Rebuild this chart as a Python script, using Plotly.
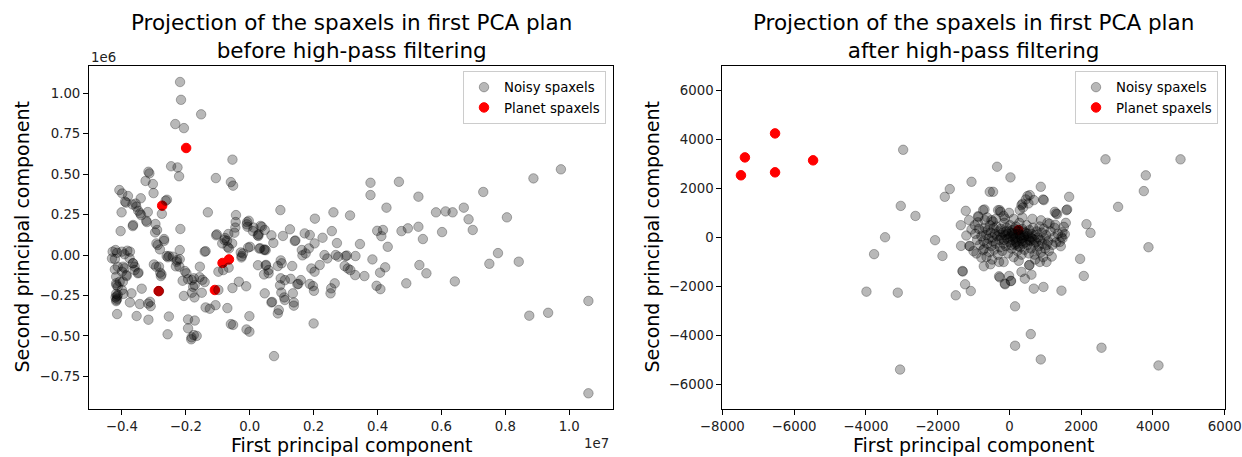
import plotly.graph_objects as go

# ---------------- data (left: x in units of 1e7, y in units of 1e6) ----------------
noisy_before = [
    (-0.218, 1.07), (-0.215, 0.96), (-0.152, 0.87), (-0.233, 0.81), (-0.206, 0.785),
    (-0.054, 0.59), (-0.246, 0.549), (-0.226, 0.542), (-0.221, 0.487), (-0.317, 0.515),
    (-0.314, 0.505), (-0.326, 0.458), (-0.303, 0.439), (-0.301, 0.383), (-0.106, 0.476),
    (-0.059, 0.451), (-0.052, 0.429), (-0.408, 0.402), (-0.399, 0.381), (-0.381, 0.365),
    (-0.387, 0.324), (-0.367, 0.313), (-0.357, 0.318), (-0.341, 0.351), (-0.263, 0.336),
    (-0.259, 0.342), (0.378, 0.447), (0.467, 0.453), (0.378, 0.371), (0.528, 0.361),
    (0.974, 0.530), (0.888, 0.474), (0.731, 0.390),
    (-0.349, 0.274), (-0.340, 0.247), (-0.319, 0.266), (-0.322, 0.204), (-0.295, 0.192),
    (-0.401, 0.264), (-0.365, 0.186), (-0.404, 0.148), (-0.296, 0.140), (-0.275, 0.255),
    (-0.217, 0.161), (-0.131, 0.264), (-0.043, 0.247), (-0.044, 0.204), (-0.045, 0.170),
    (-0.048, 0.138), (-0.008, 0.204), (-0.007, 0.175), (0.010, 0.148), (0.038, 0.175),
    (0.028, 0.128), (0.068, 0.122), (0.096, 0.278), (0.104, 0.118), (0.126, 0.159),
    (0.172, 0.134), (0.188, 0.124), (0.204, 0.225), (-0.103, 0.128), (-0.077, 0.105),
    (-0.268, 0.099), (-0.343, 0.258), (-0.355, 0.299), (-0.366, 0.179),
    (0.428, 0.293), (0.262, 0.264), (0.314, 0.245), (0.583, 0.264), (0.613, 0.270),
    (0.635, 0.264), (0.670, 0.293), (0.685, 0.221), (0.805, 0.233), (0.698, 0.155),
    (0.602, 0.142), (0.228, 0.107), (0.257, 0.148), (0.141, 0.087), (0.143, 0.090),
    (0.074, 0.075), (0.047, 0.155), (0.203, 0.072), (0.273, 0.074), (0.345, 0.068),
    (0.399, 0.150), (0.417, 0.155), (0.412, 0.117), (0.475, 0.148), (0.495, 0.165),
    (0.528, 0.175), (0.542, 0.099), (0.432, 0.051), (0.163, 0.031), (0.185, 0.041),
    (0.165, -0.002), (0.047, 0.035), (0.050, 0.030), (0.050, -0.064), (0.059, -0.113),
    (0.088, -0.068), (0.097, -0.033), (0.133, -0.068), (0.234, 0.0), (0.243, -0.021),
    (0.269, 0.0), (0.277, -0.010), (0.300, -0.006), (0.304, -0.003), (0.331, -0.006),
    (0.193, -0.083), (0.203, -0.103), (0.219, -0.062), (0.307, -0.083), (0.315, -0.093),
    (0.297, -0.068), (0.330, -0.124), (0.359, -0.130), (0.384, -0.027), (0.424, -0.076),
    (0.408, -0.109), (0.531, -0.062), (0.553, -0.113), (0.490, -0.175), (0.397, -0.190),
    (0.409, -0.211), (0.047, -0.237), (0.097, -0.144), (0.128, -0.147), (0.149, -0.181),
    (0.152, -0.178), (0.160, -0.155), (0.188, -0.179), (0.198, -0.192), (0.201, -0.221),
    (0.095, -0.187), (0.099, -0.232), (0.135, -0.237), (0.108, -0.262), (0.068, -0.293),
    (0.070, -0.290), (0.138, -0.293), (0.138, -0.313), (0.091, -0.340), (0.088, -0.361),
    (0.200, -0.423), (0.255, -0.206), (0.253, -0.237), (0.266, -0.175), (0.777, 0.012),
    (0.750, -0.054), (0.842, -0.041), (0.642, -0.163), (1.060, -0.284), (0.934, -0.357),
    (0.875, -0.375), (1.060, -0.855), (0.076, -0.625),
    (-0.429, 0.021), (-0.415, 0.014), (-0.400, 0.021), (-0.375, 0.021), (-0.392, 0.005),
    (-0.376, -0.020), (-0.365, -0.051), (-0.360, -0.072), (-0.348, -0.109), (-0.396, -0.072),
    (-0.422, -0.025), (-0.422, -0.089), (-0.400, -0.103), (-0.385, -0.130), (-0.407, -0.165),
    (-0.417, -0.186), (-0.400, -0.216), (-0.370, -0.237), (-0.418, -0.240), (-0.416, -0.255),
    (-0.415, -0.270), (-0.418, -0.285), (-0.413, -0.247), (-0.415, -0.365), (-0.375, -0.293),
    (-0.344, -0.303), (-0.312, -0.289), (-0.310, -0.316), (-0.354, -0.377), (-0.317, -0.400),
    (-0.338, -0.208), (-0.284, -0.223), (-0.292, 0.072), (-0.268, 0.088), (-0.281, 0.035),
    (-0.260, -0.006), (-0.253, -0.006), (-0.229, -0.041), (-0.219, 0.031), (-0.219, -0.026),
    (-0.300, -0.058), (-0.284, -0.072), (-0.280, -0.109), (-0.276, -0.120), (-0.203, -0.099),
    (-0.210, -0.159), (-0.181, -0.155), (-0.156, -0.072), (-0.148, -0.153), (-0.172, -0.186),
    (-0.181, -0.233), (-0.206, -0.253), (-0.173, -0.262), (-0.150, -0.233), (-0.141, -0.167),
    (-0.138, -0.324), (-0.125, -0.332), (-0.107, -0.310), (-0.098, -0.216), (-0.070, -0.328),
    (-0.054, -0.204), (-0.034, -0.165), (-0.011, -0.193), (-0.098, -0.103), (-0.083, -0.093),
    (-0.066, -0.078), (-0.141, 0.021), (-0.138, 0.024), (-0.086, 0.072), (-0.071, 0.088),
    (-0.055, 0.072), (-0.065, 0.041), (-0.025, -0.006), (-0.005, 0.046), (-0.028, 0.016),
    (-0.193, -0.398), (-0.172, -0.405), (-0.193, -0.453), (-0.182, -0.509), (-0.166, -0.500),
    (-0.257, -0.490), (-0.253, -0.380), (-0.052, -0.432), (-0.010, -0.460), (-0.001, -0.474),
    (-0.001, -0.378), (0.045, 0.031), (0.051, -0.061), (0.059, -0.093), (0.045, -0.120),
    (0.100, -0.051), (0.110, -0.155), (0.110, -0.278), (0.175, 0.010),
    (-0.003, 0.212), (-0.009, 0.190), (0.012, 0.170), (0.034, 0.180), (0.025, 0.122),
    (0.027, 0.118), (-0.105, 0.122), (-0.079, 0.093), (-0.067, 0.130), (-0.069, 0.050),
    (0.001, 0.051), (-0.021, 0.010), (-0.026, -0.015), (0.030, 0.040), (0.033, 0.042),
    (0.026, -0.063), (-0.059, -0.427), (-0.177, -0.197), (-0.175, -0.144), (-0.157, -0.137),
    (-0.193, -0.150), (-0.198, -0.113), (-0.220, -0.072), (-0.175, -0.495), (-0.183, -0.521),
    (-0.318, -0.300), (-0.293, -0.072), (-0.278, -0.130), (-0.256, -0.014), (-0.241, -0.010),
    (-0.227, -0.030), (-0.231, -0.070), (-0.288, 0.062), (-0.290, 0.155), (-0.324, 0.212),
    (-0.390, 0.330), (-0.431, -0.021), (-0.420, 0.031), (-0.383, 0.027), (-0.413, -0.072),
    (-0.418, -0.134), (-0.418, -0.175), (-0.413, -0.196), (-0.397, -0.165), (-0.392, -0.082),
    (-0.386, -0.124), (-0.360, -0.093), (-0.350, -0.113), (-0.366, -0.051), (-0.395, -0.240),
    (-0.420, -0.262), (-0.417, -0.278),
]
planet_before = [(-0.199, 0.662), (-0.274, 0.305), (-0.285, -0.223),
                 (-0.109, -0.216), (-0.085, -0.049), (-0.065, -0.027)]

noisy_after = [
    (-2960, 3580), (-3027, 1290), (-2618, 880), (-3464, 10), (-3770, -680), (-3983, -2210),
    (-3110, -2250), (-3046, -5390), (-2071, -110), (-1865, -753), (-1346, -343), (-1115, -343),
    (-1308, -1366), (-1300, -1390), (-1234, -1910), (-1076, -2184), (-1494, -2360), (-713, -1174),
    (-527, -1093), (-287, -998), (-287, -1583), (-268, -1630), (-128, -1881), (-8, -1570),
    (47, -1775), (159, -2810), (596, -3943), (159, -4417), (875, -4977), (2567, -4499),
    (4155, -5223), (3876, -397), (1971, -874), (2073, -1570), (1451, -2169), (950, -2019),
    (680, -2087), (615, -1516), (430, -1680), (337, -1406), (560, -1120), (1034, -998),
    (848, -998), (1432, -356), (1479, -41), (1544, 135), (2260, 190), (2678, 3190),
    (4769, 3190), (3801, 2536), (3746, 1894), (3030, 1252), (2148, 544), (1665, 1661),
    (1591, 1117), (1265, 1047), (1300, 980), (1572, 597), (1516, 434), (1258, 392),
    (959, 1526), (875, 2070), (680, 1526), (504, 1690), (532, 1390), (365, 1380),
    (290, 1117), (30, 2454), (-343, 2888), (-454, 1865), (-547, 1865), (-1056, 2274),
    (-1661, 1975), (-1800, 1661), (-1354, 503), (-1215, 1088), (-1123, 708), (-872, 871),
    (-733, 1117), (-268, 1117), (-8, 1006), (-128, 777), (-499, 708), (-460, 650),
    (569, 1730), (940, 1554), (457, 1554), (337, 1321), (382, 1227), (1609, 1145),
    (1330, 953), (1480, 217), (1452, 25), (1405, -180), (-1056, 327), (-964, 503),
    (-1104, -356), (-917, -654), (-638, -793), (-733, -519), (549, -1133), (-120, -1910),
    (39, -1775), (-694, 1145), (-861, 843), (-686, 708), (-315, 1117), (-248, 1047),
    (-950, 150), (-900, -100), (-850, 350), (-820, -300), (-780, 50), (-750, 250),
    (-720, -150), (-700, -450), (-680, 400), (-650, 100), (-620, -250), (-600, 300),
    (-580, -50), (-560, -600), (-540, 500), (-520, 200), (-500, -350), (-480, 0),
    (-460, -150), (-440, 380), (-420, -500), (-400, 150), (-380, -250), (-360, 450),
    (-340, 50), (-320, -700), (-300, 250), (-280, -100), (-260, -400), (-240, 350),
    (-220, 0), (-200, -550), (-180, 200), (-160, -250), (-140, 600), (-120, 100),
    (-100, -350), (-80, 400), (-60, -50), (-40, -650), (-20, 250), (0, -200),
    (20, 500), (40, 50), (60, -450), (80, 300), (100, -100), (120, -800),
    (140, 150), (160, -300), (180, 450), (200, 0), (220, -550), (240, 250),
    (260, -150), (280, 600), (300, -400), (320, 100), (340, -700), (360, 350),
    (380, -250), (400, 0), (420, -500), (440, 200), (460, -100), (480, 500),
    (500, -300), (520, 50), (540, -650), (560, 300), (580, -150), (600, -450),
    (620, 150), (640, -50), (660, 400), (680, -300), (700, -700), (720, 100),
    (740, -200), (760, 250), (780, -500), (800, 0), (820, -350), (840, 450),
    (860, -100), (880, -600), (900, 200), (920, -250), (940, -800), (960, 350),
    (980, -50), (1000, -450), (1020, 100), (1040, -300), (1060, 600), (1080, -150),
    (1100, -550), (1150, 250), (1200, -300), (1250, 0), (1300, -200), (1350, 150),
    (100, 100), (200, -250), (300, 50), (0, 0), (150, -50), (250, 150),
    (350, -150), (50, -300), (450, -200), (-50, 150), (-150, -100), (550, -100),
    (400, 250), (-250, 100), (600, 0), (700, -100), (250, -350), (150, 350),
    (-100, 250), (500, 150), (330, -30), (180, -180), (80, 180), (420, 80),
    (-880, 620), (-620, 820), (-380, 760), (-160, 880), (120, 760), (360, 820),
    (640, 760), (880, 700), (1120, 560), (-1000, -560), (-780, -820), (-480, -900),
    (-160, -1000), (260, -950), (720, -900), (1180, -780), (1280, 520), (-1200, 80),
]
planet_after = [(-7480, 2540), (-7370, 3270), (-6530, 4250), (-6530, 2660), (-5470, 3150), (250, 300)]

# axis ticks
left_xticks = [-0.4, -0.2, 0.0, 0.2, 0.4, 0.6, 0.8, 1.0]
left_xtext = ["\u22120.4", "\u22120.2", "0.0", "0.2", "0.4", "0.6", "0.8", "1.0"]
left_yticks = [-0.75, -0.5, -0.25, 0.0, 0.25, 0.5, 0.75, 1.0]
left_ytext = ["\u22120.75", "\u22120.50", "\u22120.25", "0.00", "0.25", "0.50", "0.75", "1.00"]
right_xticks = [-8000, -6000, -4000, -2000, 0, 2000, 4000, 6000]
right_xtext = ["\u22128000", "\u22126000", "\u22124000", "\u22122000", "0", "2000", "4000", "6000"]
right_yticks = [-6000, -4000, -2000, 0, 2000, 4000, 6000]
right_ytext = ["\u22126000", "\u22124000", "\u22122000", "0", "2000", "4000", "6000"]

# ---------------- figure ----------------
W, H = 1242, 457
FONT = "DejaVu Sans"
GRAY = "rgba(0,0,0,0.28)"

fig = go.Figure()

def add_panel(noisy, planet, xa, ya, legend):
    fig.add_trace(go.Scatter(
        x=[p[0] for p in planet], y=[p[1] for p in planet], mode="markers",
        name="Planet spaxels", legend=legend, legendrank=2,
        marker=dict(color="red", size=9.5, line=dict(color="red", width=1)),
        xaxis=xa, yaxis=ya, hoverinfo="skip"))
    fig.add_trace(go.Scatter(
        x=[p[0] for p in noisy], y=[p[1] for p in noisy], mode="markers",
        name="Noisy spaxels", legend=legend, legendrank=1,
        marker=dict(color=GRAY, size=9.5, line=dict(color=GRAY, width=1)),
        xaxis=xa, yaxis=ya, hoverinfo="skip"))

add_panel(noisy_before, planet_before, "x", "y", "legend")
add_panel(noisy_after, planet_after, "x2", "y2", "legend2")

ydom = [(H - 409) / H, (H - 66) / H]
axis_common = dict(showline=True, mirror=True, linecolor="black", linewidth=1,
                   ticks="outside", ticklen=5, tickwidth=1, tickcolor="black",
                   showgrid=False, zeroline=False, automargin=False,
                   tickfont=dict(family=FONT, size=13.3, color="#222"))

legend_common = dict(yanchor="top", xanchor="right", bgcolor="white",
                     bordercolor="#cccccc", borderwidth=1,
                     font=dict(family=FONT, size=13.3, color="black"),
                     traceorder="normal", tracegroupgap=0)

fig.update_layout(
    width=W, height=H, margin=dict(l=0, r=0, t=0, b=0),
    paper_bgcolor="white", plot_bgcolor="white",
    font=dict(family=FONT, color="black"),
    xaxis=dict(domain=[89 / W, 613 / W], range=[-0.503, 1.137],
               tickvals=left_xticks, ticktext=left_xtext, anchor="y", **axis_common),
    yaxis=dict(domain=ydom, range=[-0.952, 1.169],
               tickvals=left_yticks, ticktext=left_ytext, anchor="x", **axis_common),
    xaxis2=dict(domain=[722.3 / W, 1224.7 / W], range=[-8000, 6000],
                tickvals=right_xticks, ticktext=right_xtext, anchor="y2", **axis_common),
    yaxis2=dict(domain=ydom, range=[-7000, 7000],
                tickvals=right_yticks, ticktext=right_ytext, anchor="x2", **axis_common),
    legend=dict(x=606 / W, y=1 - 71 / H, **legend_common),
    legend2=dict(x=1218 / W, y=1 - 71 / H, **legend_common),
    showlegend=True,
)

titles = [
    ((89 + 613) / 2, "Projection of the spaxels in first PCA plan<br>before high-pass filtering"),
    ((722.3 + 1224.7) / 2, "Projection of the spaxels in first PCA plan<br>after high-pass filtering"),
]
for cx, t in titles:
    fig.add_annotation(x=cx / W, y=1 - 36 / H, xref="paper", yref="paper", text=t,
                       showarrow=False, xanchor="center", yanchor="middle",
                       font=dict(family=FONT, size=21.5, color="black"))
for cx in [(89 + 613) / 2, (722.3 + 1224.7) / 2]:
    fig.add_annotation(x=cx / W, y=1 - 445 / H, xref="paper", yref="paper",
                       text="First principal component", showarrow=False,
                       xanchor="center", yanchor="middle",
                       font=dict(family=FONT, size=19, color="black"))
for cx in [21, 651]:
    fig.add_annotation(x=cx / W, y=1 - 237.5 / H, xref="paper", yref="paper",
                       text="Second principal component", showarrow=False, textangle=-90,
                       xanchor="center", yanchor="middle",
                       font=dict(family=FONT, size=19, color="black"))
fig.add_annotation(x=89 / W, y=1 - 58 / H, xref="paper", yref="paper", text="1e6",
                   showarrow=False, xanchor="left", yanchor="middle",
                   font=dict(family=FONT, size=13.3, color="#222"))
fig.add_annotation(x=611 / W, y=1 - 443 / H, xref="paper", yref="paper", text="1e7",
                   showarrow=False, xanchor="right", yanchor="middle",
                   font=dict(family=FONT, size=13.3, color="#222"))

fig.write_html("out.html", config={"displayModeBar": False},
               post_script="document.body.style.margin='0';")
